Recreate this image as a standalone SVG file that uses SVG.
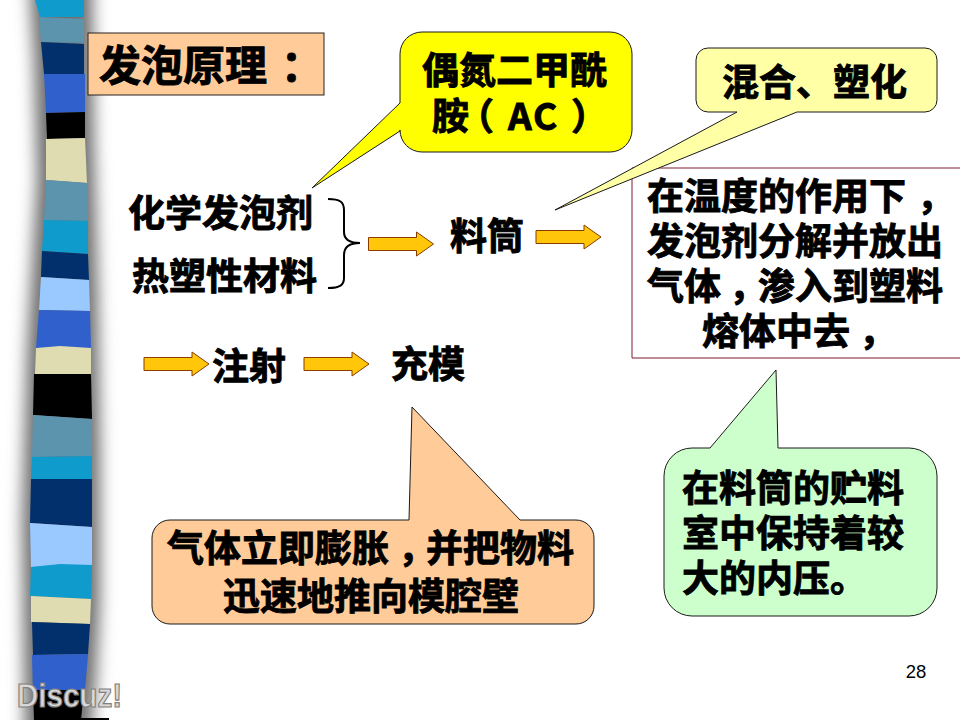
<svg xmlns="http://www.w3.org/2000/svg" width="960" height="720" viewBox="0 0 960 720">
<style>
text{font-family:"Noto Sans CJK SC","Liberation Sans",sans-serif;font-weight:700;font-size:37px;fill:#000;stroke:#000;stroke-width:.9}
.arrow{fill:#ffc60a;stroke:#8a3c00;stroke-width:1}
.cal{stroke:#1a1a1a;stroke-width:1}
</style>
<defs>
<filter id="blur" filterUnits="userSpaceOnUse" x="-40" y="-60" width="200" height="840"><feGaussianBlur stdDeviation="8"/></filter>
<path id="ar" d="M0,-6.500H48V-12L65,0L48,12V6.500H0Z" class="arrow"/>
</defs>
<rect width="960" height="720" fill="#fff"/>
<g id="sidebar">
<polygon points="28,-40 92,-40 94,140 98,300 100,450 100,600 96,680 88,760 25,760 22,520 27,350 37,180 34,60" fill="#707070" filter="url(#blur)"/>
<polygon points="35,0 84,0 84,17 40,17" fill="#0f9ccc"/>
<polygon points="39,17 84,19 84,43 41,42" fill="#5c93ad"/>
<polygon points="41,42 84,44 84,74 44,74" fill="#02306c"/>
<polygon points="44,74 85,74 85,112 46,113" fill="#3060cc"/>
<polygon points="46,113 85,112 85,138 47,139" fill="#000"/>
<polygon points="46,139 85,138 87,183 46,180" fill="#dedcb0"/>
<polygon points="46,180 87,183 88,221 44,220" fill="#5c93ad"/>
<polygon points="44,220 88,221 88,254 42,251" fill="#0f9ccc"/>
<polygon points="42,251 88,254 89,280 41,277" fill="#02306c"/>
<polygon points="41,277 89,280 90,311 39,310" fill="#99c9ff"/>
<polygon points="39,310 90,311 91,348 36,348" fill="#3060cc"/>
<polygon points="36,348 60,346 91,348 91,374 35,374" fill="#dedcb0"/>
<polygon points="34,374 91,374 92,419 33,415" fill="#000"/>
<polygon points="33,415 92,419 92,456 32,457" fill="#5c93ad"/>
<polygon points="32,457 92,456 92,479 31,479" fill="#0f9ccc"/>
<polygon points="31,479 92,479 92,527 30,523" fill="#02306c"/>
<polygon points="30,523 92,527 92,565 31,567" fill="#99c9ff"/>
<polygon points="31,567 60,564 92,565 91,599 30,596" fill="#0f9ccc"/>
<polygon points="31,596 91,599 90,624 31,622" fill="#dedcb0"/>
<polygon points="32,622 90,624 88,654 33,655" fill="#02306c"/>
<polygon points="32,655 88,654 85,690 33,695" fill="#3060cc"/>
<polygon points="33,690 84,690 81,720 34,720" fill="#000"/>
<rect x="81" y="718" width="28" height="2" fill="#000"/>
</g>
<g id="connectors">
<path d="M328,199C340,199 344,202 344,210V232C344,240 350,243 360,243C350,243 344,247 344,255V278C344,285 340,288 328,288" fill="none" stroke="#000" stroke-width="2"/>
<use href="#ar" x="368.500" y="244"/>
<use href="#ar" x="536" y="237"/>
<use href="#ar" x="144" y="364"/>
<use href="#ar" x="304" y="364"/>
</g>
<g id="title">
<rect x="88" y="33" width="236" height="62" fill="#ffcc99" stroke="#222"/>
<text x="99 141 183 225 281" y="81" style="font-size:42px">发泡原理：</text>
</g>
<g id="box-decomp">
<path d="M960,168H632V358H960" fill="#fff" stroke="#7a1a30"/>
<text x="647 684 721 758 795 832 869 917 647 684 721 758 795 832 869 906 647 684 729 758 795 832 869 906 702 739 776 813 859" y="210 210 210 210 210 210 210 210 255 255 255 255 255 255 255 255 300 300 300 300 300 300 300 300 345 345 345 345 345">在温度的作用下，发泡剂分解并放出气体，渗入到塑料熔体中去，</text>
</g>
<g id="callout-ac">
<path class="cal" fill="#ffff00" d="M422,32H610A22,22 0 0 1 632,54V130A22,22 0 0 1 610,152H422A22,22 0 0 1 400,130V131L312,188L400,103V54A22,22 0 0 1 422,32Z"/>
<text x="422 459 496 533 570 432 457 508 533 571" y="84 84 84 84 84 130 130 130 130 130">偶氮二甲酰胺（AC）</text>
</g>
<g id="callout-mix">
<path class="cal" fill="#ffffa6" d="M708,48H925A12,12 0 0 1 937,60V100A12,12 0 0 1 925,112H797L555,210L737,112H708A12,12 0 0 1 696,100V60A12,12 0 0 1 708,48Z"/>
<text x="722" y="96">混合、塑化</text>
</g>
<g id="n-agent"><text x="128" y="227">化学发泡剂</text></g>
<g id="n-plastic"><text x="132" y="290">热塑性材料</text></g>
<g id="n-barrel"><text x="450" y="250">料筒</text></g>
<g id="n-inject"><text x="212" y="380">注射</text></g>
<g id="n-fill"><text x="391" y="378">充模</text></g>
<g id="callout-pressure">
<path class="cal" fill="#ccffcc" d="M692,448H710L776,370L778,448H909A28,28 0 0 1 937,476V588A28,28 0 0 1 909,616H692A28,28 0 0 1 664,588V476A28,28 0 0 1 692,448Z"/>
<text x="682 719 756 793 830 867 682 719 756 793 830 867 682 719 756 793 830" y="502 502 502 502 502 502 547 547 547 547 547 547 592 592 592 592 592">在料筒的贮料室中保持着较大的内压。</text>
</g>
<g id="callout-gas">
<path class="cal" fill="#ffcc99" d="M170,520H409L412,407L520,520H576A18,18 0 0 1 594,538V606A18,18 0 0 1 576,624H170A18,18 0 0 1 152,606V538A18,18 0 0 1 170,520Z"/>
<text x="167 204 241 278 315 352 398 426 463 500 537 223 260 297 334 371 408 445 482" y="562 562 562 562 562 562 562 562 562 562 562 610 610 610 610 610 610 610 610">气体立即膨胀，并把物料迅速地推向模腔壁</text>
</g>
<text x="916" y="678" text-anchor="middle" style="font-family:'Liberation Sans',sans-serif;font-weight:400;font-size:18.500px;stroke:none">28</text>
<text x="17" y="707" textLength="105" lengthAdjust="spacingAndGlyphs" style="font-family:'Liberation Sans',sans-serif;font-size:33px;fill:#d8d8d8;stroke:#808080;stroke-width:1.200">Discuz!</text>
</svg>
